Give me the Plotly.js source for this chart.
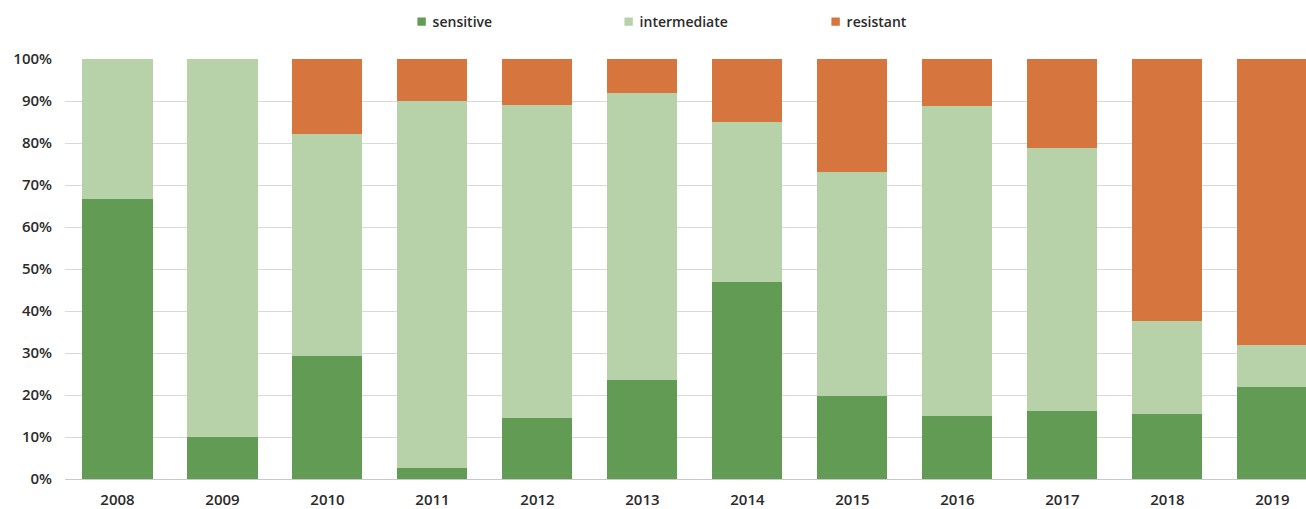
<!DOCTYPE html>
<html>
<head>
<meta charset="utf-8">
<script src="https://cdn.plot.ly/plotly-3.0.1.min.js"></script>
<style>
  html, body { margin: 0; padding: 0; background: #ffffff; }
  #chart { width: 1306px; height: 509px; }
</style>
</head>
<body>
<div id="chart"></div>
<script>
// Data (percent of isolates per year)
var years = ['2008', '2009', '2010', '2011', '2012', '2013', '2014', '2015', '2016', '2017', '2018', '2019'];
var sensitive    = [66.7, 10.0, 29.2,  2.6, 14.5, 23.5, 46.8, 19.8, 15.0, 16.2, 15.5, 21.9];
var intermediate = [33.3, 90.0, 53.0, 87.4, 74.5, 68.5, 38.2, 53.4, 73.8, 62.7, 22.1,  9.9];
var resistant    = [ 0.0,  0.0, 17.8, 10.0, 11.0,  8.0, 15.0, 26.8, 11.2, 21.1, 62.4, 68.2];
var yTickVals  = [0, 10, 20, 30, 40, 50, 60, 70, 80, 90, 100];
var yTickText  = ['0%', '10%', '20%', '30%', '40%', '50%', '60%', '70%', '80%', '90%', '100%'];

var FONT = 'Open Sans, Liberation Sans, sans-serif';
var TXT = '#2b2b2b';

function barTrace(name, vals, color) {
  return {
    type: 'bar',
    name: name,
    x: years,
    y: vals,
    marker: { color: color, line: { width: 0 } },
    hoverinfo: 'skip'
  };
}

var data = [
  barTrace('sensitive', sensitive, 'rgb(98,155,84)'),
  barTrace('intermediate', intermediate, 'rgb(183,210,169)'),
  barTrace('resistant', resistant, 'rgb(214,117,62)')
];

var layout = {
  width: 1306,
  height: 509,
  barmode: 'stack',
  bargap: 0.333,
  paper_bgcolor: '#ffffff',
  plot_bgcolor: '#ffffff',
  margin: { l: 65, r: 0, t: 59, b: 30, pad: 0 },
  font: { family: FONT, size: 12, color: TXT },
  showlegend: true,
  legend: {
    orientation: 'h',
    x: 0.264, xanchor: 'left',
    y: 1.088, yanchor: 'middle',
    entrywidth: 162,
    entrywidthmode: 'pixels',
    itemwidth: 30,
    traceorder: 'normal',
    font: { family: FONT, size: 14, color: TXT, weight: 600 },
    bgcolor: 'rgba(0,0,0,0)'
  },
  xaxis: {
    type: 'category',
    range: [-0.5, 11.32],
    showgrid: false,
    zeroline: false,
    showline: true,
    linecolor: '#c8c8c8',
    linewidth: 1,
    ticks: '',
    ticklabelstandoff: 7,
    automargin: false,
    tickfont: { family: FONT, size: 15, color: TXT, weight: 600 },
    fixedrange: true
  },
  yaxis: {
    range: [0, 100],
    tickvals: yTickVals,
    ticktext: yTickText,
    showgrid: true,
    gridcolor: '#d9d9d9',
    gridwidth: 1,
    zeroline: false,
    showline: false,
    ticks: '',
    ticklabelstandoff: 12,
    automargin: false,
    tickfont: { family: FONT, size: 15, color: TXT, weight: 600 },
    fixedrange: true
  }
};

Plotly.newPlot('chart', data, layout, { displayModeBar: false, staticPlot: true }).then(function (gd) {
  // small square swatches placed close to the text, as in the reference
  var pts = gd.querySelectorAll('.legendpoints path');
  pts.forEach(function (p) { p.setAttribute('transform', 'translate(29,0) scale(0.7)'); });
});
</script>
</body>
</html>
